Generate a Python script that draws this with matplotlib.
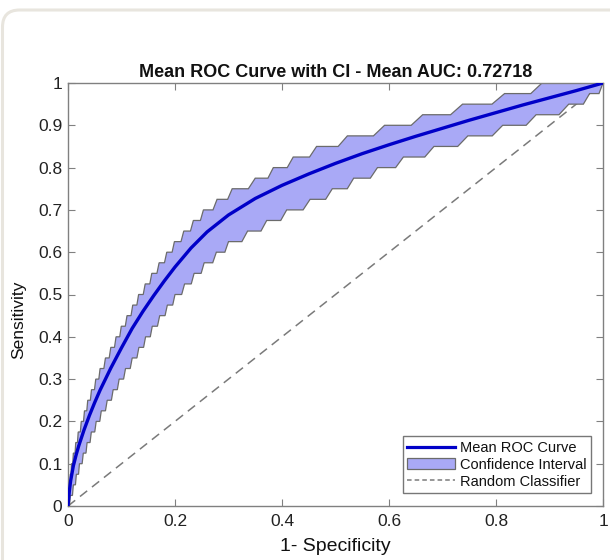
import numpy as np
import matplotlib
matplotlib.use("Agg")
import matplotlib.pyplot as plt
from matplotlib.patches import FancyBboxPatch, Patch
from matplotlib.lines import Line2D

plt.rcParams['font.family'] = ['Liberation Sans', 'DejaVu Sans']

# ---------------- data ----------------
title = "Mean ROC Curve with CI - Mean AUC: 0.72718"

# mean ROC curve
mean_fpr = [0, 0.0025, 0.005, 0.01, 0.015, 0.02, 0.03, 0.04, 0.05, 0.06, 0.08, 0.10,
            0.12, 0.14, 0.16, 0.18, 0.20, 0.23, 0.26, 0.30, 0.35, 0.40, 0.45, 0.50,
            0.55, 0.60, 0.65, 0.70, 0.75, 0.80, 0.85, 0.90, 0.95, 1.0]
mean_tpr = [0, 0.035, 0.06, 0.095, 0.12, 0.142, 0.18, 0.214, 0.245, 0.274, 0.326, 0.374,
            0.42, 0.46, 0.497, 0.532, 0.565, 0.61, 0.648, 0.688, 0.727, 0.758, 0.785, 0.81,
            0.833, 0.854, 0.874, 0.893, 0.912, 0.93, 0.948, 0.965, 0.982, 1.0]

# confidence interval: stair levels (sensitivity) with tread start / end (1-specificity)
ci_levels = [0.0, 0.025, 0.05, 0.075, 0.1, 0.125, 0.15, 0.175, 0.2, 0.225,
             0.25, 0.275, 0.3, 0.325, 0.35, 0.375, 0.4, 0.425, 0.45, 0.475,
             0.5, 0.525, 0.55, 0.575, 0.6, 0.625, 0.65, 0.675, 0.7, 0.725,
             0.75, 0.775, 0.8, 0.825, 0.85, 0.875, 0.9, 0.925, 0.95, 0.975, 1.0]

upper_start = [0.0, 0.0014, 0.0028, 0.0042, 0.0064, 0.0100, 0.0145, 0.0191, 0.0248, 0.0308,
               0.0369, 0.0439, 0.0519, 0.060, 0.070, 0.080, 0.0898, 0.0996, 0.1103, 0.1210,
               0.1320, 0.1443, 0.1566, 0.1703, 0.1846, 0.1989, 0.2164, 0.2343, 0.2531, 0.2786,
               0.3069, 0.350, 0.3838, 0.421, 0.4646, 0.5222, 0.5917, 0.6629, 0.7375, 0.816, 0.886]
upper_end = [0.001, 0.0024, 0.0038, 0.0057, 0.0089, 0.0132, 0.0177, 0.0231, 0.029, 0.0351,
             0.0418, 0.0495, 0.0576, 0.067, 0.077, 0.0869, 0.0967, 0.1071, 0.1178, 0.1287,
             0.1406, 0.1529, 0.1662, 0.1803, 0.1946, 0.2112, 0.2289, 0.2475, 0.271, 0.2984,
             0.3371, 0.3737, 0.4098, 0.4515, 0.5049, 0.5709, 0.6415, 0.7151, 0.7925, 0.865, 1.0]

lower_start = [0.0, 0.0042, 0.010, 0.0156, 0.0214, 0.0286, 0.0357, 0.0436, 0.0527, 0.0622,
               0.0733, 0.0844, 0.0956, 0.1075, 0.120, 0.1325, 0.145, 0.1575, 0.1714, 0.1857,
               0.200, 0.2179, 0.2357, 0.2545, 0.2773, 0.300, 0.3357, 0.3714, 0.4088, 0.4525,
               0.494, 0.534, 0.5784, 0.6269, 0.684, 0.7474, 0.8125, 0.875, 0.936, 0.975, 1.0]
lower_end = [0.0029, 0.0083, 0.0139, 0.0197, 0.0264, 0.0336, 0.0412, 0.050, 0.0594, 0.070,
             0.0811, 0.0922, 0.1039, 0.1163, 0.1288, 0.1413, 0.1538, 0.1672, 0.1814, 0.1957,
             0.2125, 0.2304, 0.2489, 0.2705, 0.2932, 0.325, 0.3607, 0.3976, 0.4394, 0.4816,
             0.522, 0.5651, 0.6124, 0.6669, 0.7284, 0.793, 0.8563, 0.9177, 0.9633, 0.9925, 1.0]

diag_x = [0, 1]
diag_y = [0, 1]

tick_vals = [0, 0.1, 0.2, 0.3, 0.4, 0.5, 0.6, 0.7, 0.8, 0.9, 1]
tick_labels_y = ['0', '0.1', '0.2', '0.3', '0.4', '0.5', '0.6', '0.7', '0.8', '0.9', '1']
xtick_vals = [0, 0.2, 0.4, 0.6, 0.8, 1]
tick_labels_x = ['0', '0.2', '0.4', '0.6', '0.8', '1']

legend_labels = ['Mean ROC Curve', 'Confidence Interval', 'Random Classifier']

# ---------------- build band polygon ----------------
ux, uy, lx, ly = [], [], [], []
for lev, s, e in zip(ci_levels, upper_start, upper_end):
    ux += [s, e]; uy += [lev, lev]
for lev, s, e in zip(ci_levels, lower_start, lower_end):
    lx += [s, e]; ly += [lev, lev]
poly_x = ux + lx[::-1]
poly_y = uy + ly[::-1]

# ---------------- figure ----------------
W, H = 610, 560
fig = plt.figure(figsize=(W / 100, H / 100), dpi=100)
fig.patch.set_facecolor('white')

card = FancyBboxPatch((2.5 / W, -30 / H), 700 / W, (H - 10 + 30) / H,
                      boxstyle="round,pad=0,rounding_size=0.028",
                      transform=fig.transFigure, facecolor='none',
                      edgecolor='#e8e5de', linewidth=2.2, zorder=-10,
                      mutation_aspect=W / H)
fig.patches.append(card)

ax = fig.add_axes([68 / W, 54 / H, 535 / W, 423 / H])
ax.set_zorder(5)
ax.set_facecolor('white')

band_color = '#a9a9f6'
ax.fill(poly_x, poly_y, facecolor=band_color, edgecolor='#6b6b6b', linewidth=0.9, zorder=2)
ax.plot(mean_fpr, mean_tpr, color='#0000c8', linewidth=2.4, zorder=3,
        solid_capstyle='round', solid_joinstyle='round')
ax.plot(diag_x, diag_y, color='#7a7a7a', linewidth=1.1, dashes=(6, 4), zorder=1)

ax.set_xlim(0, 1)
ax.set_ylim(0, 1)
ax.set_xticks(xtick_vals)
ax.set_xticklabels(tick_labels_x)
ax.set_yticks(tick_vals)
ax.set_yticklabels(tick_labels_y)
ax.tick_params(direction='in', top=True, right=True, length=5, width=0.8,
               color='#808080', labelcolor='#222222', labelsize=12.5)
ax.tick_params(axis='x', pad=6)
ax.tick_params(axis='y', pad=4)
for sp in ax.spines.values():
    sp.set_color('#808080')
    sp.set_linewidth(1.0)

ax.set_title(title, fontsize=13, fontweight='bold', color='#111111', pad=4)
ax.set_xlabel('1- Specificity', fontsize=14, color='#111111')
ax.xaxis.set_label_coords(0.5, -0.076)
ax.set_ylabel('Sensitivity', fontsize=12.5, color='#111111')
ax.yaxis.set_label_coords(-0.079, 0.44)

handles = [Line2D([], [], color='#0000c8', linewidth=2.3),
           Patch(facecolor=band_color, edgecolor='#6b6b6b', linewidth=0.9),
           Line2D([], [], color='#7a7a7a', linewidth=1.1, dashes=(3, 2))]
leg = ax.legend(handles, legend_labels, loc='lower right',
                bbox_to_anchor=(0.977, 0.031), borderaxespad=0,
                fontsize=10.5, frameon=True, fancybox=False,
                handlelength=3.3, handletextpad=0.3, borderpad=0.3,
                labelspacing=0.2)
leg.get_frame().set_edgecolor('#555555')
leg.get_frame().set_linewidth(1.0)
for t in leg.get_texts():
    t.set_color('#111111')

fig.savefig('out.png', dpi=100, facecolor='white')
